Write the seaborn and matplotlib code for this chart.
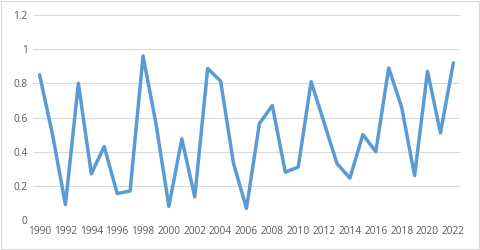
import matplotlib
matplotlib.use("Agg")
import matplotlib.pyplot as plt
import seaborn as sns
import pandas as pd
from matplotlib.patches import Rectangle

years = list(range(1990, 2023))
values = [0.85, 0.50, 0.09, 0.80, 0.27, 0.43, 0.155, 0.17, 0.96, 0.565,
          0.08, 0.475, 0.135, 0.887, 0.813, 0.33, 0.068, 0.565, 0.67, 0.28,
          0.31, 0.81, 0.57, 0.33, 0.245, 0.50, 0.40, 0.89, 0.66, 0.26,
          0.87, 0.51, 0.92]
xticks = list(range(1990, 2023, 2))
yticks = [0, 0.2, 0.4, 0.6, 0.8, 1.0, 1.2]
ytick_labels = ["0", "0.2", "0.4", "0.6", "0.8", "1", "1.2"]

df = pd.DataFrame({"year": years, "value": values})

sns.set_theme(style="white")
plt.rcParams['font.family'] = ['Open Sans', 'DejaVu Sans']

fig = plt.figure(figsize=(4.8, 2.5), dpi=100)
ax = fig.add_axes([0.069, 0.12, 0.889, 0.82])
sns.lineplot(data=df, x="year", y="value", ax=ax, color="#5b9bd5", linewidth=2.5)

ax.set_xlim(1989.5, 2022.5)
ax.set_ylim(0, 1.2)
ax.set_yticks(yticks)
ax.set_yticklabels(ytick_labels)
ax.set_xticks(xticks)
ax.set_xticklabels([str(t) for t in xticks])
ax.grid(axis="y", color="#d9d9d9", linewidth=0.8)
ax.set_axisbelow(True)
for s in ax.spines.values():
    s.set_visible(False)
ax.tick_params(axis="both", labelsize=7.3, colors="#595959", length=0, pad=4)
ax.set_xlabel("")
ax.set_ylabel("")

fig.patches.append(Rectangle((0.003, 0.005), 0.994, 0.99, transform=fig.transFigure,
                             fill=False, edgecolor="#d9d9d9", linewidth=0.8))

fig.savefig("out.png", dpi=100)
